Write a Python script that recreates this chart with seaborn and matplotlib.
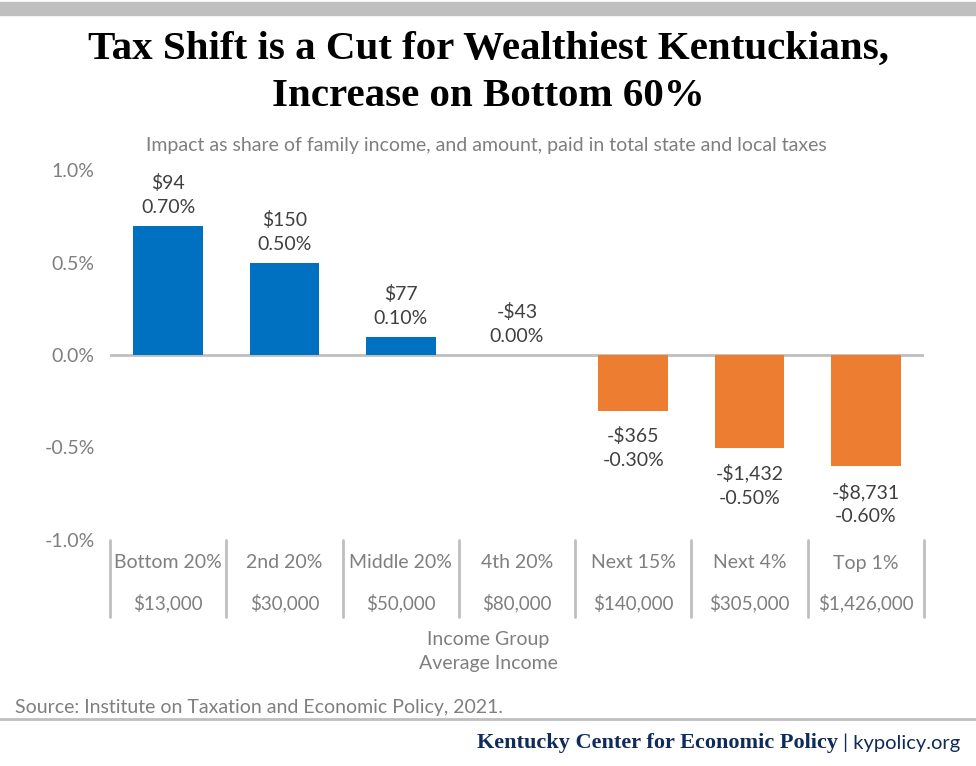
import matplotlib
matplotlib.use("Agg")
import matplotlib.pyplot as plt
import seaborn as sns
import pandas as pd
from matplotlib.patches import Rectangle
from matplotlib.lines import Line2D

# ---- data ----
groups = ["Bottom 20%", "2nd 20%", "Middle 20%", "4th 20%", "Next 15%", "Next 4%", "Top 1%"]
avg_income = ["$13,000", "$30,000", "$50,000", "$80,000", "$140,000", "$305,000", "$1,426,000"]
share_change = [0.70, 0.50, 0.10, 0.00, -0.30, -0.50, -0.60]
dollar_change = ["$94", "$150", "$77", "-$43", "-$365", "-$1,432", "-$8,731"]
pct_labels = ["0.70%", "0.50%", "0.10%", "0.00%", "-0.30%", "-0.50%", "-0.60%"]
y_ticks = [1.0, 0.5, 0.0, -0.5, -1.0]

sns.set_theme(style="white")
plt.rcParams["font.family"] = ["Lato", "DejaVu Sans"]

W, H = 976, 766
fig = plt.figure(figsize=(W / 100, H / 100), dpi=100)

def fx(px):
    return px / W

def fy(py):
    return 1 - py / H

ax = fig.add_axes([fx(110), fy(540), fx(924) - fx(110), fy(170) - fy(540)])

df = pd.DataFrame({
    "group": groups,
    "value": share_change,
    "sign": ["pos" if v >= 0 else "neg" for v in share_change],
})
sns.barplot(data=df, x="group", y="value", hue="sign",
            palette={"pos": "#0070C0", "neg": "#ED7D31"}, saturation=1,
            dodge=False, width=0.6, legend=False, ax=ax, order=groups, linewidth=0)

ax.set_ylim(-1.0, 1.0)
ax.set_xlim(-0.5, len(groups) - 0.5)
ax.set_yticks(y_ticks)
ax.set_yticklabels([f"{t:.1f}%" for t in y_ticks], color="#7F7F7F", fontsize=14)
ax.tick_params(axis="y", length=0, pad=11)
ax.set_xticks([])
ax.set_xlabel("")
ax.set_ylabel("")
for s in ax.spines.values():
    s.set_visible(False)
ax.axhline(0, color="#BFBFBF", lw=2, zorder=0)

# value labels
for i, (v, d, p) in enumerate(zip(share_change, dollar_change, pct_labels)):
    if v >= 0:
        ax.annotate(f"{d}\n{p}", (i, v), xytext=(0, 7), textcoords="offset points",
                    ha="center", va="bottom", fontsize=14, color="#404040", linespacing=1.5)
    else:
        ax.annotate(f"{d}\n{p}", (i, v), xytext=(0, -12), textcoords="offset points",
                    ha="center", va="top", fontsize=14, color="#404040", linespacing=1.5)

# category table below axis
trans = ax.get_xaxis_transform()
axh = 370.0
for k in range(len(groups) + 1):
    ax.add_line(Line2D([k - 0.5, k - 0.5], [0, -77 / axh], transform=trans,
                       color="#BFBFBF", lw=2, clip_on=False))
for i, (g, inc) in enumerate(zip(groups, avg_income)):
    ax.text(i, -23 / axh, g, transform=trans, ha="center", va="center",
            fontsize=14, color="#7F7F7F")
    ax.text(i, -63 / axh, inc, transform=trans, ha="center", va="center",
            fontsize=13.5, color="#7F7F7F")

# axis titles
fig.text(fx(488), fy(640), "Income Group", ha="center", va="center", fontsize=14, color="#7F7F7F")
fig.text(fx(488), fy(664), "Average Income", ha="center", va="center", fontsize=14, color="#7F7F7F")

# subtitle
fig.text(fx(486), fy(145), "Impact as share of family income, and amount, paid in total state and local taxes",
         ha="center", va="center", fontsize=14, color="#7F7F7F")

# title
title_font = dict(family=["Liberation Serif", "DejaVu Serif"], fontweight="bold", fontsize=29.5, color="black")
fig.text(fx(488), fy(49), "Tax Shift is a Cut for Wealthiest Kentuckians,", ha="center", va="center", **title_font)
fig.text(fx(488), fy(96), "Increase on Bottom 60%", ha="center", va="center", **title_font)

# top gray band and bottom rule
fig.patches.append(Rectangle((0, fy(15)), 1, fy(2) - fy(15), transform=fig.transFigure,
                             color="#BFBFBF", zorder=0))
fig.lines.append(Line2D([0, 1], [fy(719), fy(719)], transform=fig.transFigure,
                        color="#BFBFBF", lw=2))

# source
fig.text(fx(15), fy(708), "Source: Institute on Taxation and Economic Policy, 2021.",
         ha="left", va="center", fontsize=14, color="#7F7F7F")

# footer
navy = "#0F2B59"
t2 = fig.text(fx(960), fy(743), "| kypolicy.org", ha="right", va="center", fontsize=14.5, color=navy)
fig.canvas.draw()
bb = t2.get_window_extent()
fig.text(bb.x0 / W - fx(5), fy(743), "Kentucky Center for Economic Policy", ha="right", va="center",
         fontsize=16, color=navy, family=["Liberation Serif", "DejaVu Serif"], fontweight="bold")

fig.savefig("out.png", dpi=100)
